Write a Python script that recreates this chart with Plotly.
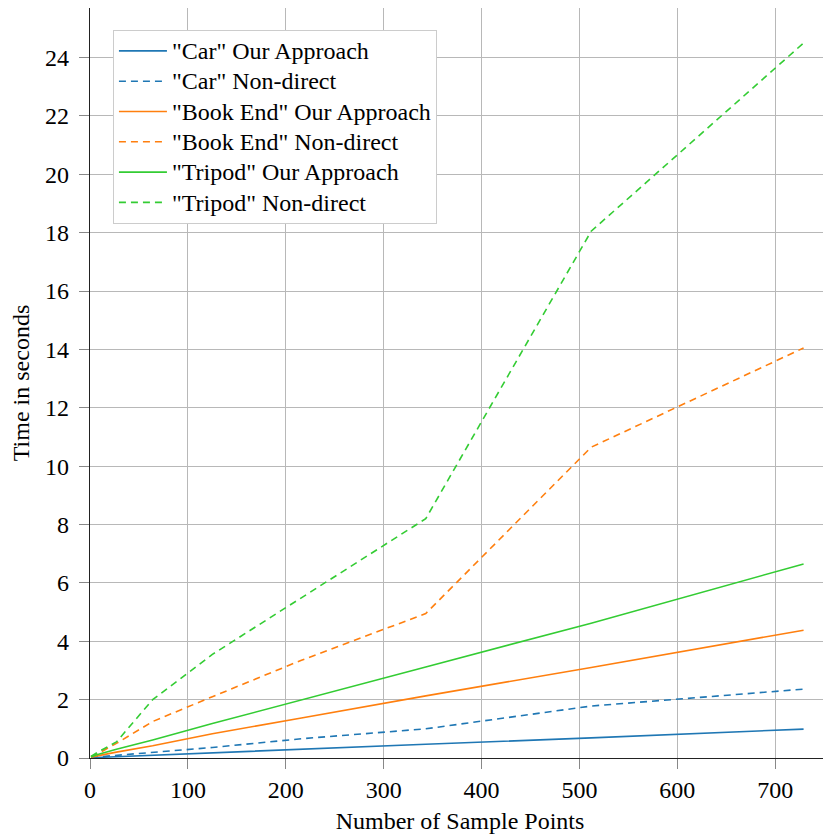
import plotly.graph_objects as go

samples = [1, 8, 27, 64, 125, 216, 343, 512, 729]

car_ours = [0.01, 0.02, 0.04, 0.09, 0.17, 0.29, 0.47, 0.69, 0.99]
car_nondirect = [0.02, 0.04, 0.09, 0.2, 0.36, 0.66, 1.0, 1.78, 2.36]
book_ours = [0.03, 0.08, 0.2, 0.42, 0.83, 1.37, 2.13, 3.1, 4.38]
book_nondirect = [0.05, 0.15, 0.5, 1.25, 2.1, 3.35, 4.95, 10.65, 14.05]
tripod_ours = [0.04, 0.12, 0.3, 0.62, 1.18, 2.0, 3.12, 4.62, 6.65]
tripod_nondirect = [0.05, 0.2, 0.55, 2.0, 3.55, 5.5, 8.2, 18.05, 24.5]

names = ['"Car" Our Approach', '"Car" Non-direct',
         '"Book End" Our Approach', '"Book End" Non-direct',
         '"Tripod" Our Approach', '"Tripod" Non-direct']
series = [car_ours, car_nondirect, book_ours, book_nondirect, tripod_ours, tripod_nondirect]
colors = ["#1f77b4", "#1f77b4", "#ff7f0e", "#ff7f0e", "#33cc33", "#33cc33"]
dashes = ["solid", "7px,5px", "solid", "7px,5px", "solid", "7px,5px"]

x_ticks = [0, 100, 200, 300, 400, 500, 600, 700]
y_ticks = [0, 2, 4, 6, 8, 10, 12, 14, 16, 18, 20, 22, 24]

FAMILY = "Liberation Serif, Times New Roman, serif"

fig = go.Figure()
for name, ys, c, d in zip(names, series, colors, dashes):
    fig.add_trace(go.Scatter(x=samples, y=ys, mode="lines",
                             name='<span style="font-size:24px">' + name + '</span>',
                             line=dict(color=c, width=1.6, dash=d)))

font = dict(family=FAMILY, size=24, color="black")
axis_common = dict(showgrid=True, gridcolor="#b8b8b8", gridwidth=1,
                   showline=True, linecolor="#222", linewidth=1.3, mirror=True,
                   ticks="outside", tickcolor="#888", ticklen=10, tickwidth=1,
                   zeroline=False, tickfont=font)

fig.update_layout(
    width=823, height=829,
    margin=dict(l=82, r=1, t=0, b=79, autoexpand=False),
    paper_bgcolor="white", plot_bgcolor="white",
    font=font,
    showlegend=True,
    legend=dict(x=0.031, y=0.971, xanchor="left", yanchor="top",
                bgcolor="white", bordercolor="#cccccc", borderwidth=1,
                font=dict(family=FAMILY, size=21, color="black"),
                itemwidth=48, tracegroupgap=0),
    xaxis=dict(range=[0, 756], tickvals=x_ticks, automargin=False,
               title=dict(text="Number of Sample Points", font=font, standoff=10), **axis_common),
    yaxis=dict(range=[0, 25.7], tickvals=y_ticks, automargin=False, ticklabelstandoff=5,
               title=dict(text="Time in seconds", font=font, standoff=16), **axis_common),
)

fig.write_html("out.html")
